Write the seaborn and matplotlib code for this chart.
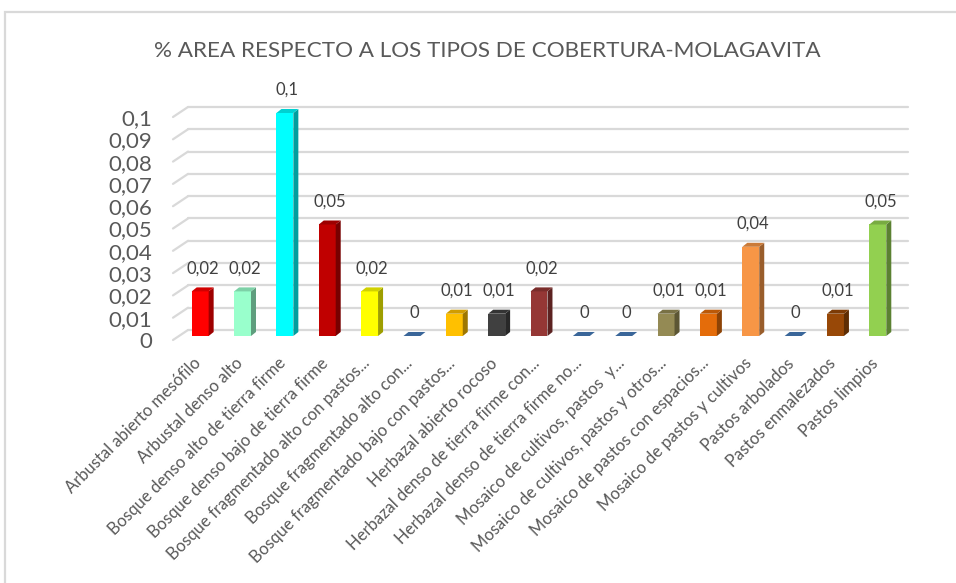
import numpy as np
import pandas
import seaborn as sns
import matplotlib
matplotlib.use("Agg")
import matplotlib.pyplot as plt
from matplotlib.patches import Polygon, Rectangle
from matplotlib import transforms

# data
categories = [
    "Arbustal abierto mesófilo",
    "Arbustal denso alto",
    "Bosque denso alto de tierra firme",
    "Bosque denso bajo de tierra firme",
    "Bosque fragmentado alto con pastos...",
    "Bosque fragmentado alto con...",
    "Bosque fragmentado bajo con pastos...",
    "Herbazal abierto rocoso",
    "Herbazal denso de tierra firme con...",
    "Herbazal denso de tierra firme no...",
    "Mosaico de cultivos, pastos  y...",
    "Mosaico de cultivos, pastos y otros...",
    "Mosaico de pastos con espacios...",
    "Mosaico de pastos y cultivos",
    "Pastos arbolados",
    "Pastos enmalezados",
    "Pastos limpios",
]
values = [0.02, 0.02, 0.1, 0.05, 0.02, 0, 0.01, 0.01, 0.02, 0, 0, 0.01, 0.01, 0.04, 0, 0.01, 0.05]
colors = ["#FF0000", "#99FFCC", "#00FFFF", "#C00000", "#FFFF00", "#4F81BD", "#FFC000", "#404040",
          "#953735", "#4F81BD", "#4F81BD", "#948A54", "#E46C0A", "#F79646", "#4F81BD", "#984807", "#92D050"]
yticks = [i / 100 for i in range(11)]
title = "% AREA RESPECTO A LOS TIPOS DE COBERTURA-MOLAGAVITA"

zero_color = "#3A6699"
grid_color = "#D9D9D9"
text_color = "#595959"

sns.set_style("white")
plt.rcParams["font.family"] = ["Lato", "DejaVu Sans"]

W, H = 956, 583
fig = plt.figure(figsize=(W / 100, H / 100), dpi=100)
left, right = 173, 893
top0, base0 = 117, 340
ax = fig.add_axes([left / W, 1 - base0 / H, (right - left) / W, (base0 - top0) / H])

df = pandas.DataFrame({"cat": categories, "val": values})
sns.barplot(data=df, x="cat", y="val", hue="cat", palette=dict(zip(categories, colors)),
            width=0.40, legend=False, ax=ax, saturation=1, zorder=3)
ax.set_xlim(-0.5, 16.5)
ax.set_ylim(0, 0.1)
ax.set_xlabel("")
ax.set_ylabel("")
for s in ax.spines.values():
    s.set_visible(False)

px_x = (right - left) / 17
px_y = (base0 - top0) / 0.1


def dx(p):
    return p / px_x


def dy(p):
    return p / px_y


def shade(c, f):
    r, g, b = matplotlib.colors.to_rgb(c)
    return (r * f, g * f, b * f)


# back grid with the 3D diagonals on the left
for t in yticks:
    ax.plot([-0.5 + dx(15), 16.5 + dx(15)], [t + dy(10)] * 2, color=grid_color, lw=1.6,
            clip_on=False, zorder=1)
    ax.plot([-0.5, -0.5 + dx(15)], [t, t + dy(10)], color=grid_color, lw=1.6,
            clip_on=False, zorder=1)

# 3D look for the bars
patches = sorted(ax.patches, key=lambda p: p.get_x())
for patch, v, c in zip(patches, values, colors):
    patch.set_x(patch.get_x() + dx(6))
    patch.set_y(dy(4))
    patch.set_clip_on(False)
    patch.set_edgecolor("none")
    x0 = patch.get_x()
    w = patch.get_width()
    y0 = dy(4)
    y1 = y0 + v
    if v > 0:
        side = [(x0 + w, y0), (x0 + w + dx(5), y0 + dy(4)), (x0 + w + dx(5), y1 + dy(4)), (x0 + w, y1)]
        ax.add_patch(Polygon(side, closed=True, fc=shade(c, 0.62), ec="none", zorder=3, clip_on=False))
        top_c = shade(c, 0.82)
    else:
        patch.set_visible(False)
        top_c = zero_color
    top = [(x0, y1), (x0 + w, y1), (x0 + w + dx(5), y1 + dy(4)), (x0 + dx(5), y1 + dy(4))]
    ax.add_patch(Polygon(top, closed=True, fc=top_c, ec="none", zorder=4, clip_on=False))
    label = f"{v:g}".replace(".", ",")
    ax.annotate(label, (x0 + w / 2 + dx(2.5), y1 + dy(4)), xytext=(0, 11),
                textcoords="offset pixels", ha="center", va="bottom",
                fontsize=12, color="#404040", annotation_clip=False)

ax.set_yticks(yticks)
ax.set_yticklabels([f"{t:g}".replace(".", ",") for t in yticks])
ax.tick_params(axis="y", length=0, pad=15, labelsize=16, labelcolor=text_color)

ax.set_xticks(range(len(categories)))
ax.set_xticklabels(categories, rotation=45, ha="right", va="center", rotation_mode="anchor")
ax.tick_params(axis="x", length=0, pad=15, labelsize=12, labelcolor=text_color)
shift = transforms.ScaledTranslation(4 / 100, 0, fig.dpi_scale_trans)
for lab in ax.get_xticklabels():
    lab.set_transform(lab.get_transform() + shift)

fig.text(487 / W, 1 - 51 / H, title, ha="center", va="center", fontsize=16.2,
         color=text_color)

fig.add_artist(Rectangle((5 / W, -0.02), 1.0, 1 - 12 / H + 0.02, transform=fig.transFigure,
                         fill=False, ec=grid_color, lw=1.6))

fig.savefig("out.png", dpi=100)
